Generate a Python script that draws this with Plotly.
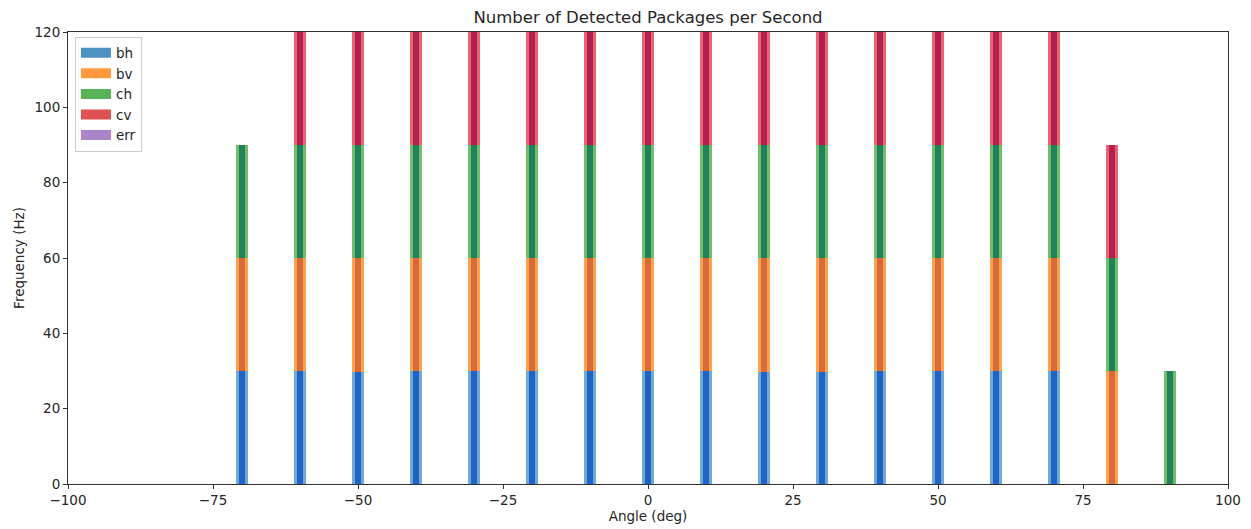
import numpy as np
import plotly.graph_objects as go

# Angles of the measurement positions (deg)
angles = [-70, -60, -50, -40, -30, -20, -10, 0, 10, 20, 30, 40, 50, 60, 70, 80, 90]

# Detected packages per second for each channel (Hz)
bh = [30, 30, 29.7, 30, 30, 30, 30, 30, 30, 29.7, 29.7, 30, 30, 30, 30, 0, 0]
bv = [30, 30, 30.3, 30, 30, 30, 30, 30, 30, 30.3, 30.3, 30, 30, 30, 30, 30, 0]
ch = [30, 30, 30, 30, 30, 30, 30, 30, 30, 30, 30, 30, 30, 30, 30, 30, 30]
cv = [0, 30, 30, 30, 30, 30, 30, 30, 30, 30, 30, 30, 30, 30, 30, 30, 0]
err = [0, 0, 0, 0, 0, 0, 0, 0, 0, 0, 0, 0, 0, 0, 0, 0, 0]

series = [
    ("bh", bh, "#4c92c3", "#6fa9d6", "#1f64c4"),
    ("bv", bv, "#ff993e", "#ffa24e", "#d96a3a"),
    ("ch", ch, "#56b356", "#6cc06a", "#24805a"),
    ("cv", cv, "#de5253", "#ec6271", "#b2214f"),
    ("err", err, "#a985ca", "#b897d6", "#7a4fa8"),
]

fig = go.Figure()
base = np.zeros(len(angles))
for name, vals, legend_col, outer_col, inner_col in series:
    vals = np.array(vals, dtype=float)
    fig.add_trace(go.Bar(x=angles, y=vals, base=base, width=1.9,
                         marker=dict(color=outer_col, line=dict(width=0)),
                         showlegend=False, hoverinfo="skip"))
    fig.add_trace(go.Bar(x=angles, y=vals, base=base, width=1.0,
                         marker=dict(color=inner_col, line=dict(width=0)),
                         showlegend=False, name=name))
    base = base + vals

# Legend entries drawn as wide colour patches
for name, vals, legend_col, outer_col, inner_col in series:
    fig.add_trace(go.Scatter(x=[None], y=[None], mode="lines", name=name,
                             line=dict(color=legend_col, width=10)))

axis_common = dict(showline=True, linecolor="#333333", linewidth=1, mirror=True,
                   ticks="outside", ticklen=4, tickcolor="#333333", showgrid=False,
                   zeroline=False, automargin=False,
                   tickfont=dict(size=13.5, color="#262626"))

fig.update_layout(
    width=1251, height=529,
    margin=dict(l=68, r=23, t=32, b=45),
    paper_bgcolor="white", plot_bgcolor="white",
    barmode="overlay", bargap=0,
    font=dict(family="DejaVu Sans", size=13.5, color="#262626"),
    title=dict(text="Number of Detected Packages per Second", x=0.5, xanchor="center",
               xref="paper", y=0.968, yanchor="middle", font=dict(size=16.5, color="#262626")),
    xaxis=dict(range=[-100, 100], tickvals=[-100, -75, -50, -25, 0, 25, 50, 75, 100],
               ticktext=["\u2212100", "\u221275", "\u221250", "\u221225", "0", "25", "50", "75", "100"],
               title=dict(text="Angle (deg)", standoff=3, font=dict(size=13.5)), **axis_common),
    yaxis=dict(range=[0, 120], tickvals=[0, 20, 40, 60, 80, 100, 120],
               title=dict(text="Frequency (Hz)", standoff=6, font=dict(size=13.5)), **axis_common),
    legend=dict(x=0.006, y=0.99, xanchor="left", yanchor="top",
                bgcolor="rgba(255,255,255,0.8)", bordercolor="#cccccc", borderwidth=1,
                font=dict(size=13.5), itemwidth=30, tracegroupgap=0),
)

fig.write_html("out.html")
